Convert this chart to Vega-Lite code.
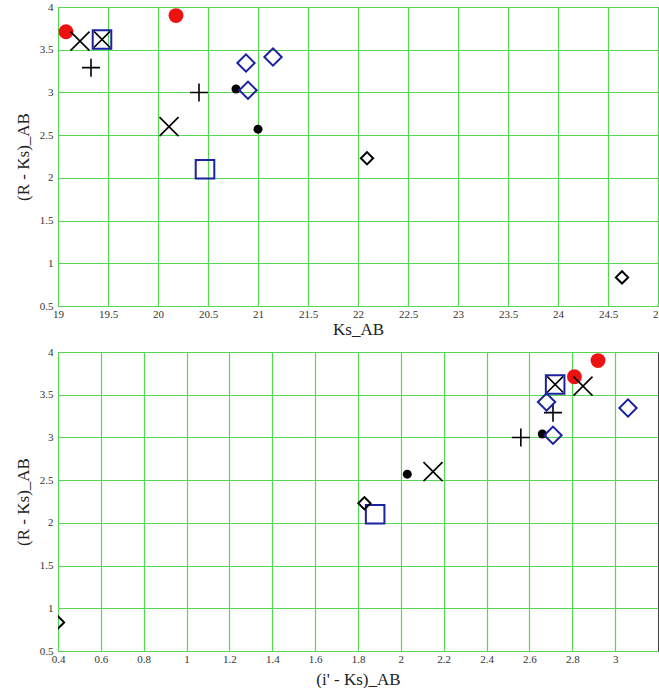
{
  "$schema": "https://vega.github.io/schema/vega-lite/v6.json",
  "padding": {"left": 13, "top": 0, "right": 0, "bottom": 0},
  "background": "white",
  "bounds": "flush",
  "spacing": 46,
  "config": {
    "view": {"stroke": "#404040", "strokeWidth": 1},
    "axis": {
      "grid": true, "gridColor": "#55d855", "gridWidth": 1.2, "gridOpacity": 1,
      "ticks": false, "domain": false,
      "labelFont": "Liberation Serif", "labelFontSize": 11, "labelColor": "#333333",
      "labelFlush": false, "labelOverlap": false,
      "titleFont": "Liberation Serif", "titleFontSize": 17, "titleFontWeight": "normal", "titleColor": "#222222"
    }
  },
  "data": {"values": [
    {"type": "red", "Ks": 19.08, "RKs": 3.71, "iKs": 2.81},
    {"type": "red", "Ks": 20.18, "RKs": 3.90, "iKs": 2.92},
    {"type": "x", "Ks": 19.22, "RKs": 3.60, "iKs": 2.85},
    {"type": "x", "Ks": 20.11, "RKs": 2.60, "iKs": 2.15},
    {"type": "boxx", "Ks": 19.44, "RKs": 3.62, "iKs": 2.72},
    {"type": "plus", "Ks": 19.33, "RKs": 3.29, "iKs": 2.71},
    {"type": "plus", "Ks": 20.41, "RKs": 3.00, "iKs": 2.56},
    {"type": "dot", "Ks": 20.78, "RKs": 3.04, "iKs": 2.66},
    {"type": "dot", "Ks": 21.00, "RKs": 2.57, "iKs": 2.03},
    {"type": "bdiam", "Ks": 20.88, "RKs": 3.345, "iKs": 3.06},
    {"type": "bdiam", "Ks": 20.90, "RKs": 3.025, "iKs": 2.71},
    {"type": "bdiam", "Ks": 21.15, "RKs": 3.415, "iKs": 2.68},
    {"type": "bsq", "Ks": 20.47, "RKs": 2.10, "iKs": 1.88},
    {"type": "kdiam", "Ks": 22.09, "RKs": 2.23, "iKs": 1.83},
    {"type": "kdiam", "Ks": 24.64, "RKs": 0.835, "iKs": 0.40}
  ]},
  "vconcat": [
    {
      "width": 600, "height": 299,
      "encoding": {
        "x": {"field": "Ks", "type": "quantitative", "title": "Ks_AB",
          "scale": {"domain": [19, 25], "nice": false, "zero": false},
          "axis": {"values": [19, 19.5, 20, 20.5, 21, 21.5, 22, 22.5, 23, 23.5, 24, 24.5, 25], "format": "~g", "labelPadding": 2, "titleY": 23, "titleBaseline": "middle"}},
        "y": {"field": "RKs", "type": "quantitative", "title": "(R - Ks)_AB",
          "scale": {"domain": [0.5, 4], "nice": false, "zero": false},
          "axis": {"values": [0.5, 1, 1.5, 2, 2.5, 3, 3.5, 4], "format": "~g", "labelPadding": 5, "titleX": -35, "titleBaseline": "middle"}}
      },
      "layer": [
        {"transform": [{"filter": "datum.type === 'red'"}], "mark": {"type": "point", "shape": "circle", "filled": true, "color": "#ee1111", "opacity": 1, "size": 220, "clip": true}},
        {"transform": [{"filter": "datum.type === 'dot'"}], "mark": {"type": "point", "shape": "circle", "filled": true, "color": "black", "opacity": 1, "size": 81, "clip": true}},
        {"transform": [{"filter": "datum.type === 'x'"}], "mark": {"type": "point", "shape": "M-1,-1L1,1M1,-1L-1,1", "filled": false, "stroke": "black", "strokeWidth": 1.6, "opacity": 1, "size": 361, "clip": true}},
        {"transform": [{"filter": "datum.type === 'boxx'"}], "mark": {"type": "point", "shape": "M-1,-1L1,1M1,-1L-1,1", "filled": false, "stroke": "black", "strokeWidth": 1.6, "opacity": 1, "size": 260, "clip": true}},
        {"transform": [{"filter": "datum.type === 'plus'"}], "mark": {"type": "point", "shape": "M-1,0L1,0M0,-1L0,1", "filled": false, "stroke": "black", "strokeWidth": 1.6, "opacity": 1, "size": 324, "clip": true}},
        {"transform": [{"filter": "datum.type === 'bdiam'"}], "mark": {"type": "point", "shape": "diamond", "filled": false, "stroke": "#1a22a0", "strokeWidth": 2, "opacity": 1, "size": 300, "clip": true}},
        {"transform": [{"filter": "datum.type === 'bsq' || datum.type === 'boxx'"}], "mark": {"type": "point", "shape": "square", "filled": false, "stroke": "#1a22a0", "strokeWidth": 2, "opacity": 1, "size": 345, "clip": true}},
        {"transform": [{"filter": "datum.type === 'kdiam'"}], "mark": {"type": "point", "shape": "diamond", "filled": false, "stroke": "black", "strokeWidth": 2, "opacity": 1, "size": 150, "clip": true}}
      ]
    },
    {
      "width": 600, "height": 299,
      "encoding": {
        "x": {"field": "iKs", "type": "quantitative", "title": "(i' - Ks)_AB",
          "scale": {"domain": [0.4, 3.2], "nice": false, "zero": false},
          "axis": {"values": [0.4, 0.6, 0.8, 1, 1.2, 1.4, 1.6, 1.8, 2, 2.2, 2.4, 2.6, 2.8, 3], "format": "~g", "labelPadding": 2, "titleY": 28, "titleBaseline": "middle"}},
        "y": {"field": "RKs", "type": "quantitative", "title": "(R - Ks)_AB",
          "scale": {"domain": [0.5, 4], "nice": false, "zero": false},
          "axis": {"values": [0.5, 1, 1.5, 2, 2.5, 3, 3.5, 4], "format": "~g", "labelPadding": 5, "titleX": -35, "titleBaseline": "middle"}}
      },
      "layer": [
        {"transform": [{"filter": "datum.type === 'red'"}], "mark": {"type": "point", "shape": "circle", "filled": true, "color": "#ee1111", "opacity": 1, "size": 220, "clip": true}},
        {"transform": [{"filter": "datum.type === 'dot'"}], "mark": {"type": "point", "shape": "circle", "filled": true, "color": "black", "opacity": 1, "size": 81, "clip": true}},
        {"transform": [{"filter": "datum.type === 'x'"}], "mark": {"type": "point", "shape": "M-1,-1L1,1M1,-1L-1,1", "filled": false, "stroke": "black", "strokeWidth": 1.6, "opacity": 1, "size": 361, "clip": true}},
        {"transform": [{"filter": "datum.type === 'boxx'"}], "mark": {"type": "point", "shape": "M-1,-1L1,1M1,-1L-1,1", "filled": false, "stroke": "black", "strokeWidth": 1.6, "opacity": 1, "size": 260, "clip": true}},
        {"transform": [{"filter": "datum.type === 'plus'"}], "mark": {"type": "point", "shape": "M-1,0L1,0M0,-1L0,1", "filled": false, "stroke": "black", "strokeWidth": 1.6, "opacity": 1, "size": 324, "clip": true}},
        {"transform": [{"filter": "datum.type === 'bdiam'"}], "mark": {"type": "point", "shape": "diamond", "filled": false, "stroke": "#1a22a0", "strokeWidth": 2, "opacity": 1, "size": 300, "clip": true}},
        {"transform": [{"filter": "datum.type === 'bsq' || datum.type === 'boxx'"}], "mark": {"type": "point", "shape": "square", "filled": false, "stroke": "#1a22a0", "strokeWidth": 2, "opacity": 1, "size": 345, "clip": true}},
        {"transform": [{"filter": "datum.type === 'kdiam'"}], "mark": {"type": "point", "shape": "diamond", "filled": false, "stroke": "black", "strokeWidth": 2, "opacity": 1, "size": 150, "clip": true}}
      ]
    }
  ]
}
